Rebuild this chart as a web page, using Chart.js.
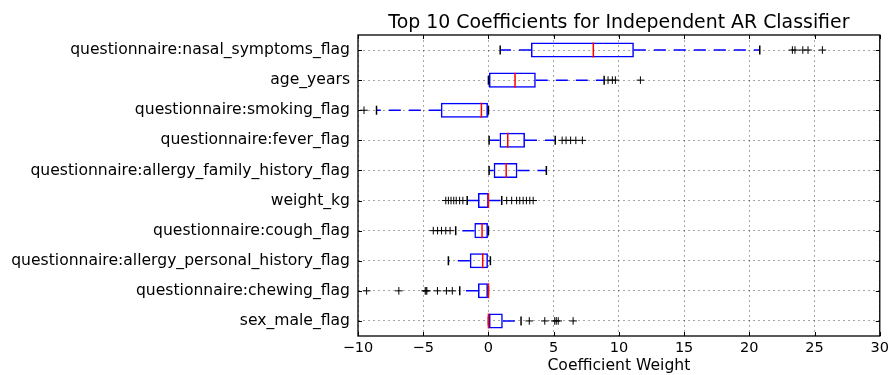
<!DOCTYPE html>
<html>
<head>
<meta charset="utf-8">
<script src="https://cdn.jsdelivr.net/npm/chart.js@4.4.1/dist/chart.umd.min.js"></script>
<style>
  body { margin: 0; background: #fff; }
  #wrap { width: 893px; height: 375px; }
</style>
</head>
<body>
<div id="wrap"><canvas id="coefChart" width="893" height="375"></canvas></div>
<script>
// box statistics per feature, top to bottom
const features = [
  'questionnaire:nasal_symptoms_flag',
  'age_years',
  'questionnaire:smoking_flag',
  'questionnaire:fever_flag',
  'questionnaire:allergy_family_history_flag',
  'weight_kg',
  'questionnaire:cough_flag',
  'questionnaire:allergy_personal_history_flag',
  'questionnaire:chewing_flag',
  'sex_male_flag'
];
const whiskerLow  = [0.9, 0.0, -8.58, 0.05, 0.05, -1.63, -2.51, -3.07, -2.2, 0.0];
const q1          = [3.26, 0.0, -3.65, 0.85, 0.4, -0.8, -1.08, -1.43, -0.8, 0.0];
const median      = [8.04, 2.04, -0.54, 1.48, 1.36, 0.0, -0.49, -0.44, 0.0, 0.0];
const q3          = [11.15, 3.63, 0.0, 2.8, 2.22, 0.02, 0.0, 0.0, 0.0, 1.1];
const whiskerHigh = [20.8, 8.87, 0.0, 5.12, 4.44, 1.02, 0.0, 0.15, 0.0, 2.5];
const fliers = [
  [23.3, 23.5, 24.1, 24.5, 25.6],
  [9.17, 9.5, 9.73, 11.65],
  [-9.54],
  [5.65, 5.95, 6.3, 6.7, 7.2],
  [],
  [-3.27, -3.07, -2.87, -2.66, -2.47, -2.21, -1.96, 1.4, 1.78, 2.16, 2.4, 2.66, 2.91, 3.17, 3.43],
  [-4.23, -3.9, -3.6, -3.27, -2.94],
  [],
  [-9.34, -6.87, -4.85, -4.78, -4.72, -3.91, -3.22, -2.77],
  [3.13, 4.32, 5.08, 5.2, 5.35, 6.49]
];
const xTicks = [-10, -5, 0, 5, 10, 15, 20, 25, 30];

Chart.defaults.font.family = "'DejaVu Sans', sans-serif";
Chart.defaults.color = '#000';

const gridColor = 'rgba(0,0,0,0.35)';

// whiskers run outward from the box edges, NaN breaks the line between them
const whiskerPts = features.flatMap((f, i) => [
  { x: q1[i], y: f }, { x: whiskerLow[i], y: f }, { x: NaN, y: f },
  { x: q3[i], y: f }, { x: whiskerHigh[i], y: f }, { x: NaN, y: f }
]);
const capPts = features.flatMap((f, i) => [
  { x: whiskerLow[i], y: f }, { x: whiskerHigh[i], y: f }
]);
const medianPts = features.map((f, i) => ({ x: median[i], y: f }));
const flierPts = features.flatMap((f, i) => fliers[i].map(v => ({ x: v, y: f })));

// black frame with inward tick marks on all four sides
const framePlugin = {
  id: 'frame',
  afterDatasetsDraw(chart) {
    const { ctx, chartArea: a, scales } = chart;
    const len = 4;
    ctx.save();
    ctx.strokeStyle = '#000';
    ctx.lineWidth = 1;
    ctx.beginPath();
    scales.x.ticks.forEach(t => {
      const px = Math.round(scales.x.getPixelForValue(t.value)) + 0.5;
      ctx.moveTo(px, a.bottom); ctx.lineTo(px, a.bottom - len);
      ctx.moveTo(px, a.top); ctx.lineTo(px, a.top + len);
    });
    features.forEach((f, i) => {
      const py = Math.round(scales.y.getPixelForValue(i)) + 0.5;
      ctx.moveTo(a.left, py); ctx.lineTo(a.left + len, py);
      ctx.moveTo(a.right, py); ctx.lineTo(a.right - len, py);
    });
    ctx.stroke();
    ctx.lineWidth = 1.3;
    ctx.strokeRect(a.left, a.top, a.right - a.left, a.bottom - a.top);
    ctx.restore();
  }
};

new Chart(document.getElementById('coefChart'), {
  type: 'bar',
  data: {
    labels: features,
    datasets: [
      {
        type: 'scatter',
        data: medianPts,
        pointStyle: 'line',
        rotation: 90,
        pointRadius: 7.5,
        borderColor: '#ff0000',
        borderWidth: 1.5
      },
      {
        type: 'scatter',
        data: capPts,
        pointStyle: 'line',
        rotation: 90,
        pointRadius: 4.5,
        borderColor: '#000',
        borderWidth: 1.5
      },
      {
        type: 'scatter',
        data: flierPts,
        pointStyle: 'cross',
        pointRadius: 3.8,
        borderColor: '#000',
        borderWidth: 1
      },
      {
        type: 'bar',
        data: features.map((f, i) => [q1[i], q3[i]]),
        backgroundColor: 'rgba(0,0,0,0)',
        borderColor: '#0000ff',
        borderWidth: 1.5,
        borderSkipped: false,
        barPercentage: 0.5,
        categoryPercentage: 1.0
      },
      {
        type: 'scatter',
        data: whiskerPts,
        showLine: true,
        spanGaps: false,
        pointRadius: 0,
        borderColor: '#0000ff',
        borderWidth: 1.5,
        borderDash: [12, 8]
      }
    ]
  },
  options: {
    indexAxis: 'y',
    responsive: false,
    animation: false,
    events: [],
    layout: { padding: { left: 0, right: 8, top: 0, bottom: 0 } },
    plugins: {
      legend: { display: false },
      tooltip: { enabled: false },
      title: {
        display: true,
        fullSize: false,
        text: 'Top 10 Coefficients for Independent AR Classifier',
        font: { size: 18.9, weight: 'normal' },
        color: '#000',
        padding: { top: 12, bottom: 0.3 }
      }
    },
    scales: {
      x: {
        type: 'linear',
        position: 'bottom',
        min: xTicks[0],
        max: xTicks[xTicks.length - 1],
        afterBuildTicks: s => { s.ticks = xTicks.map(v => ({ value: v })); },
        afterFit: s => { s.height = 39; },
        ticks: {
          font: { size: 14.5 },
          color: '#000',
          padding: 4,
          callback: v => (v < 0 ? '\u2212' + Math.abs(v) : String(v))
        },
        grid: { color: gridColor, lineWidth: 1, drawTicks: false },
        border: { display: false, dash: [2, 3] },
        title: {
          display: true,
          text: 'Coefficient Weight',
          font: { size: 15.6 },
          color: '#000',
          padding: { top: 0, bottom: 0 }
        }
      },
      y: {
        type: 'category',
        position: 'left',
        labels: features,
        afterFit: s => { s.width = 358; },
        ticks: { font: { size: 15.6 }, color: '#000', padding: 8 },
        grid: { color: gridColor, lineWidth: 1, drawTicks: false, offset: false },
        border: { display: false, dash: [2, 3] }
      }
    }
  },
  plugins: [framePlugin]
});
</script>
</body>
</html>
